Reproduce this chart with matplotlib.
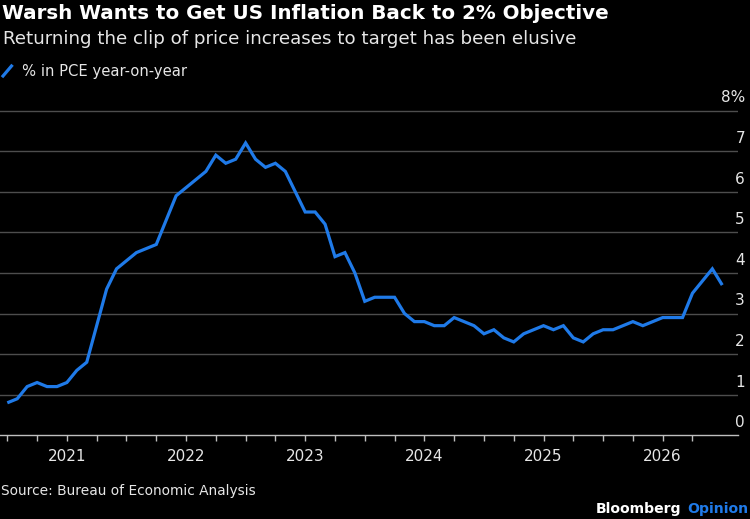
import matplotlib
matplotlib.use("Agg")
import matplotlib.pyplot as plt
import matplotlib.transforms as mtransforms
from matplotlib.lines import Line2D

# ---------------- data ----------------
start_month = "2020-07"   # first observation (monthly series)
pce = [
    0.8, 0.9, 1.2, 1.3, 1.2, 1.2,                                  # 2020 Jul-Dec
    1.3, 1.6, 1.8, 2.7, 3.6, 4.1, 4.3, 4.5, 4.6, 4.7, 5.3, 5.9,    # 2021
    6.1, 6.3, 6.5, 6.9, 6.7, 6.8, 7.2, 6.8, 6.6, 6.7, 6.5, 6.0,    # 2022
    5.5, 5.5, 5.2, 4.4, 4.5, 4.0, 3.3, 3.4, 3.4, 3.4, 3.0, 2.8,    # 2023
    2.8, 2.7, 2.7, 2.9, 2.8, 2.7, 2.5, 2.6, 2.4, 2.3, 2.5, 2.6,    # 2024
    2.7, 2.6, 2.7, 2.4, 2.3, 2.5, 2.6, 2.6, 2.7, 2.8, 2.7, 2.8,    # 2025
    2.9, 2.9, 2.9, 3.5, 3.8, 4.1, 3.7,                             # 2026 Jan-Jul
]
year_labels = ["2021", "2022", "2023", "2024", "2025", "2026"]
year_month_index = [6, 18, 30, 42, 54, 66]      # January of each year
quarter_month_index = list(range(0, 70, 3))     # quarterly minor ticks
y_values = [0, 1, 2, 3, 4, 5, 6, 7, 8]
y_labels = ["0", "1", "2", "3", "4", "5", "6", "7", "8%"]

title = "Warsh Wants to Get US Inflation Back to 2% Objective"
subtitle = "Returning the clip of price increases to target has been elusive"
legend_label = "% in PCE year-on-year"
source = "Source: Bureau of Economic Analysis"
brand = ["Bloomberg", "Opinion"]

# ---------------- style ----------------
W, H = 750, 519
BG = "#000000"
BLUE = "#1f7ae8"
GRID = "#4d4d4d"
AXIS = "#bfbfbf"
TXT = "#e6e6e6"
FONT = "DejaVu Sans"

fig = plt.figure(figsize=(W / 100, H / 100), dpi=100, facecolor=BG)
renderer = fig.canvas.get_renderer()


def fx(px):
    return px / W


def fy(py):
    return 1 - py / H


def fit_text(x_px, y_px, s, width_px, size0, **kw):
    t = fig.text(fx(x_px), fy(y_px), s, fontsize=size0, **kw)
    w = t.get_window_extent(renderer).width
    t.set_fontsize(size0 * width_px / w)
    return t


# axes geometry (pixels): value 0 at y=435.3, 1 unit = 40.6 px
unit = 40.6
y0_px = 435.3
ytop_val = 8.3
ax_left_px, ax_right_px = 0, 738
ax_bottom = fy(y0_px)
ax_top = fy(y0_px - ytop_val * unit)
ax = fig.add_axes([fx(ax_left_px), ax_bottom, fx(ax_right_px - ax_left_px), ax_top - ax_bottom])
ax.set_facecolor(BG)

# x scale: month index, first obs at px 7.3, 9.93 px / month
px_per_month = 9.93
x0_px = 7.3
ax.set_xlim((ax_left_px - x0_px) / px_per_month, (ax_right_px - x0_px) / px_per_month)
ax.set_ylim(0, ytop_val)

x = list(range(len(pce)))
ax.plot(x, pce, color=BLUE, lw=2.3, solid_joinstyle="miter", solid_capstyle="butt", zorder=3)

# gridlines
for v in y_values[1:]:
    ax.axhline(v, color=GRID, lw=1.0, zorder=1)

for sp in ["top", "right", "left"]:
    ax.spines[sp].set_visible(False)
ax.spines["bottom"].set_color(AXIS)
ax.spines["bottom"].set_linewidth(1.0)

ax.set_yticks([])
ax.set_xticks(quarter_month_index, minor=True)
ax.set_xticks(year_month_index)
ax.set_xticklabels(year_labels)
ax.tick_params(axis="x", which="both", direction="out", length=4, width=1.0,
               color=AXIS, labelcolor=TXT, labelsize=11, pad=6)
for lab in ax.get_xticklabels():
    lab.set_fontfamily(FONT)

# y labels, right side above gridlines
trans = mtransforms.blended_transform_factory(fig.transFigure, ax.transData)
for v, lab in zip(y_values, y_labels):
    ax.text(fx(745), v + 0.2, lab, transform=trans, ha="right", va="baseline",
            color=TXT, fontsize=11, family=FONT)

# titles
fit_text(2, 19.3, title, 604, 13, color="white", weight="bold", family=FONT, va="baseline")
fit_text(3, 44, subtitle, 574, 12, color=TXT, family=FONT, va="baseline")

# legend
fig.add_artist(Line2D([fx(3), fx(11.5)], [fy(76), fy(66)], color=BLUE, lw=2.3,
                      transform=fig.transFigure))
fit_text(22, 76, legend_label, 164, 10, color=TXT, family=FONT, va="baseline")

# source
fit_text(1, 494.5, source, 254, 10, color=TXT, family=FONT, va="baseline")

# Bloomberg Opinion (right aligned at x=748)
b_size = 10.5
t1 = fig.text(0, 0, brand[0], color="white", weight="bold", fontsize=b_size, family=FONT)
t2 = fig.text(0, 0, brand[1], color=BLUE, weight="bold", fontsize=b_size, family=FONT)
w1 = t1.get_window_extent(renderer).width
w2 = t2.get_window_extent(renderer).width
gap = 5
scale = (152 - gap) / (w1 + w2)
b_size *= scale
t1.set_fontsize(b_size)
t2.set_fontsize(b_size)
w1 *= scale
w2 *= scale
x_start = 748 - (w1 + gap + w2)
t1.set_position((fx(x_start), fy(513)))
t2.set_position((fx(x_start + w1 + gap), fy(513)))

fig.savefig("out.png", dpi=100, facecolor=BG)
